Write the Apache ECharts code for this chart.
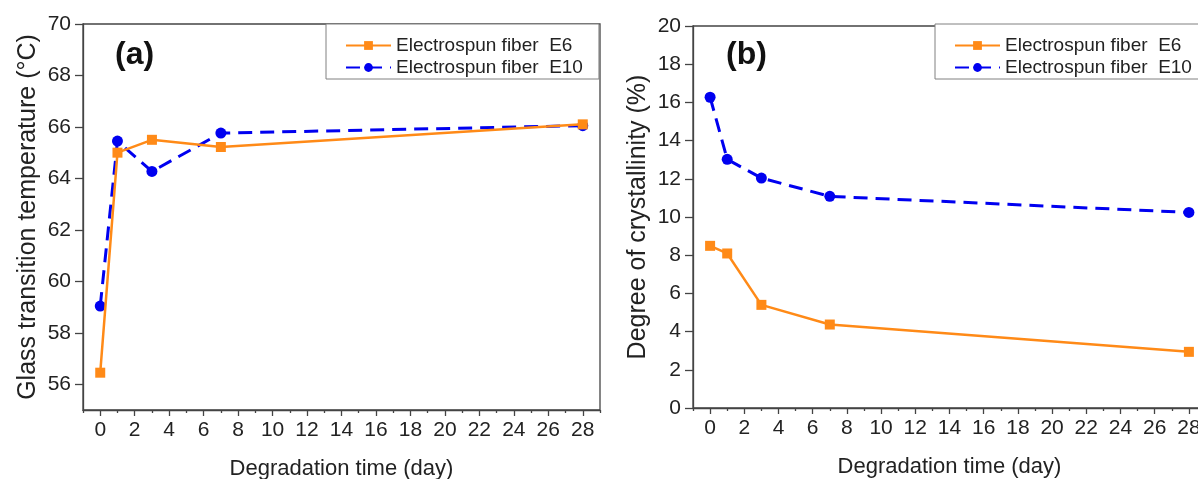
<!DOCTYPE html>
<html>
<head>
<meta charset="utf-8">
<script src="https://cdn.jsdelivr.net/npm/echarts@6/dist/echarts.min.js"></script>
<style>
  html, body { margin: 0; padding: 0; background: #fff; }
  #chart { width: 1198px; height: 479px; }
</style>
</head>
<body>
<div id="chart"></div>
<script>
// degradation days
const days = [0, 1, 3, 7, 28];

// (a) glass transition temperature, °C
const tgE6 = [56.45, 65.0, 65.5, 65.22, 66.1];
const tgE10 = [59.04, 65.45, 64.27, 65.76, 66.05];

// (b) degree of crystallinity, %
const xcE6 = [8.49, 8.09, 5.40, 4.37, 2.94];
const xcE10 = [16.27, 13.02, 12.04, 11.08, 10.24];

// tick labels
const xMajor = [0, 2, 4, 6, 8, 10, 12, 14, 16, 18, 20, 22, 24, 26, 28];
const xMinor = [-1, 1, 3, 5, 7, 9, 11, 13, 15, 17, 19, 21, 23, 25, 27, 29];
const yTicksA = [56, 58, 60, 62, 64, 66, 68, 70];
const yTicksB = [0, 2, 4, 6, 8, 10, 12, 14, 16, 18, 20];

const FONT = "'Liberation Sans', Arial, Helvetica, sans-serif";
const AXIS_COLOR = '#444';
const ORANGE = '#FF8A17';
const BLUE = '#0000F0';

const pairs = (ys) => days.map((d, i) => [d, ys[i]]);

function xAxes(gridIndex) {
  return [
    {
      gridIndex, type: 'value', min: -1, max: 29, interval: 1,
      name: 'Degradation time (day)', nameLocation: 'middle', nameGap: 48,
      nameTextStyle: { fontFamily: FONT, fontSize: 22, color: '#222' },
      axisLine: { onZero: false, lineStyle: { color: AXIS_COLOR, width: 1.3 } },
      axisTick: { customValues: xMajor, length: 6, lineStyle: { color: AXIS_COLOR, width: 1.3 } },
      axisLabel: { customValues: xMajor, margin: 10, fontFamily: FONT, fontSize: 21, color: '#222' },
      splitLine: { show: false }
    },
    {
      gridIndex, type: 'value', min: -1, max: 29, interval: 1, position: 'bottom',
      axisLine: { show: false, onZero: false },
      axisTick: { customValues: xMinor, length: 3, lineStyle: { color: AXIS_COLOR, width: 1.3 } },
      axisLabel: { show: false },
      splitLine: { show: false }
    }
  ];
}

function yAxis(gridIndex, min, max, ticks, name) {
  return {
    gridIndex, type: 'value', min, max, interval: 5,
    name, nameLocation: 'middle', nameGap: 42,
    nameTextStyle: { fontFamily: FONT, fontSize: 25, color: '#222' },
    axisLine: { show: true, onZero: false, lineStyle: { color: AXIS_COLOR, width: 1.3 } },
    axisTick: { show: true, customValues: ticks, length: 8, lineStyle: { color: AXIS_COLOR, width: 1.3 } },
    axisLabel: { customValues: ticks, margin: 12, fontFamily: FONT, fontSize: 21, color: '#222' },
    splitLine: { show: false }
  };
}

function seriesPair(xIdx, yIdx, e6, e10) {
  return [
    {
      name: 'Electrospun fiber  E6', type: 'line', xAxisIndex: xIdx, yAxisIndex: yIdx,
      data: pairs(e6), symbol: 'rect', symbolSize: 10,
      lineStyle: { color: ORANGE, width: 2.5 }, itemStyle: { color: ORANGE },
      z: 3
    },
    {
      name: 'Electrospun fiber  E10', type: 'line', xAxisIndex: xIdx, yAxisIndex: yIdx,
      data: pairs(e10), symbol: 'circle', symbolSize: 11,
      lineStyle: { color: BLUE, width: 3, type: [14, 8] }, itemStyle: { color: BLUE },
      z: 2
    }
  ];
}

function legend(left) {
  return {
    left, top: 24, orient: 'vertical',
    data: ['Electrospun fiber  E6', 'Electrospun fiber  E10'],
    itemWidth: 45, itemHeight: 11, itemGap: 3,
    padding: [12, 16, 2, 19],
    borderColor: '#808080', borderWidth: 1, borderRadius: 0,
    backgroundColor: '#fff',
    textStyle: { fontFamily: FONT, fontSize: 19, color: '#222' }
  };
}

const chart = echarts.init(document.getElementById('chart'));
chart.setOption({
  animation: false,
  backgroundColor: '#fff',
  grid: [
    { left: 83, top: 24, width: 517, height: 386, outerBoundsMode: 'none', containLabel: false,
      show: true, borderColor: AXIS_COLOR, borderWidth: 1.3 },
    { left: 693, top: 26, width: 513, height: 382, outerBoundsMode: 'none', containLabel: false,
      show: true, borderColor: AXIS_COLOR, borderWidth: 1.3 }
  ],
  xAxis: [...xAxes(0), ...xAxes(1)],
  yAxis: [
    yAxis(0, 55, 70, yTicksA, 'Glass transition temperature (°C)'),
    yAxis(1, 0, 20, yTicksB, 'Degree of crystallinity (%)')
  ],
  legend: [legend(326), legend(935)],
  graphic: [
    { type: 'text', left: 115, top: 39, style: { text: '(a)', fontFamily: FONT, fontSize: 32, fontWeight: 'bold', fill: '#111' } },
    { type: 'text', left: 726, top: 39, style: { text: '(b)', fontFamily: FONT, fontSize: 32, fontWeight: 'bold', fill: '#111' } }
  ],
  series: [...seriesPair(0, 0, tgE6, tgE10), ...seriesPair(2, 1, xcE6, xcE10)]
});
</script>
</body>
</html>
